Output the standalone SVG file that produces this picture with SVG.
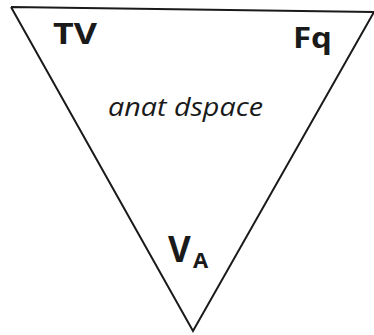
<svg xmlns="http://www.w3.org/2000/svg" width="374" height="335" viewBox="0 0 374 335">
<style>
.edge{fill:none;stroke:#1a1a1a;stroke-width:2;stroke-linejoin:miter}
.lbl{font-family:"Open Sans","Liberation Sans",sans-serif;font-weight:bold;fill:#1a1a1a}
.it{font-family:"Open Sans","Liberation Sans",sans-serif;font-style:italic;fill:#1a1a1a}
</style>
<rect width="374" height="335" fill="#ffffff"/>
<g id="connectors">
<path class="edge" d="M11,7 L374,12 M11,7 L193,331 L374,12"/>
</g>
<g id="node-TV"><text class="lbl" x="53" y="44" font-size="29" textLength="44" lengthAdjust="spacingAndGlyphs">TV</text></g>
<g id="node-Fq"><text class="lbl" x="293" y="48" font-size="28" textLength="39" lengthAdjust="spacingAndGlyphs">Fq</text></g>
<g id="node-anat"><text class="it" x="108" y="116" font-size="25" textLength="155" lengthAdjust="spacingAndGlyphs">anat dspace</text></g>
<g id="node-VA"><text class="lbl" x="168" y="262" font-size="35">V<tspan x="193" y="268" font-size="22">A</tspan></text></g>
</svg>
